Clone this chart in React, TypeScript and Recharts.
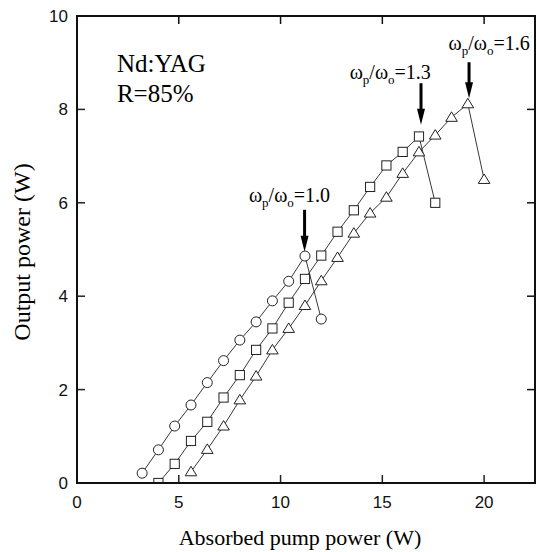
import React from 'react';
import { ComposedChart, Line, XAxis, YAxis, ReferenceLine, ReferenceDot } from 'recharts';

// ---- data ----
const circleX = [3.2, 4.0, 4.8, 5.6, 6.4, 7.2, 8.0, 8.8, 9.6, 10.4, 11.2, 12.0];
const circleY = [0.21, 0.71, 1.22, 1.67, 2.15, 2.62, 3.06, 3.45, 3.9, 4.32, 4.86, 3.51];

const squareX = [4.0, 4.8, 5.6, 6.4, 7.2, 8.0, 8.8, 9.6, 10.4, 11.2, 12.0, 12.8, 13.6, 14.4, 15.2, 16.0, 16.8, 17.6];
const squareY = [0.0, 0.41, 0.9, 1.31, 1.83, 2.31, 2.85, 3.31, 3.86, 4.37, 4.87, 5.38, 5.84, 6.34, 6.8, 7.09, 7.42, 6.0];

const triangleX = [5.6, 6.4, 7.2, 8.0, 8.8, 9.6, 10.4, 11.2, 12.0, 12.8, 13.6, 14.4, 15.2, 16.0, 16.8, 17.6, 18.4, 19.2, 20.0];
const triangleY = [0.24, 0.72, 1.22, 1.78, 2.29, 2.85, 3.31, 3.8, 4.33, 4.83, 5.35, 5.78, 6.12, 6.63, 7.09, 7.45, 7.83, 8.12, 6.5];

const X_MAX = 22.5;
const Y_MAX = 10;
const xTicks = [0, 5, 10, 15, 20];
const yTicks = [0, 2, 4, 6, 8, 10];
const topTicks = [5, 10, 15, 20];
const rightTicks = [2, 4, 6, 8];

const annoValues = ['1.0', '1.3', '1.6'];
const annoTextX = [10.44, 15.39, 20.25];
const annoTextY = [6.02, 8.66, 9.27];
const arrowX = [11.18, 16.9, 19.26];
const arrowTop = [5.85, 8.56, 9.01];
const arrowTip = [4.95, 7.67, 8.24];

const sampleLines = ['Nd:YAG', 'R=85%'];
const sampleX = [1.96, 1.96];
const sampleY = [8.8, 8.16];

const xLabel = 'Absorbed pump power (W)';
const yLabel = 'Output power (W)';

const circleData = circleX.map((x, i) => ({ x, y: circleY[i] }));
const squareData = squareX.map((x, i) => ({ x, y: squareY[i] }));
const triangleData = triangleX.map((x, i) => ({ x, y: triangleY[i] }));

// layout (chart box geometry)
const W = 537;
const H = 552;
const M_TOP = 16;
const M_RIGHT = 2;
const Y_AXIS_W = 77;
const X_AXIS_H = 69;
const PLOT_L = Y_AXIS_W;
const PLOT_R = W - M_RIGHT;
const PLOT_T = M_TOP;
const PLOT_B = H - X_AXIS_H;
const frameX = (v: number) => PLOT_L + (v / X_MAX) * (PLOT_R - PLOT_L);
const frameY = (v: number) => PLOT_B - (v / Y_MAX) * (PLOT_B - PLOT_T);

const INK = '#222';
const SERIF = 'Liberation Serif';
const SANS = 'Liberation Sans';

const CircleDot = (p: any) => (
  <circle key={`c${p.index}`} cx={p.cx} cy={p.cy} r={5} fill="#fff" stroke={INK} strokeWidth={1} />
);
const SquareDot = (p: any) => (
  <rect key={`s${p.index}`} x={p.cx - 4.6} y={p.cy - 4.6} width={9.2} height={9.2} fill="#fff" stroke={INK} strokeWidth={1} />
);
const TriangleDot = (p: any) => (
  <polygon
    key={`t${p.index}`}
    points={`${p.cx},${p.cy - 5.5} ${p.cx + 5.8},${p.cy + 4} ${p.cx - 5.8},${p.cy + 4}`}
    fill="#fff"
    stroke={INK}
    strokeWidth={1}
  />
);

const BottomTick = (p: any) => (
  <g>
    <line x1={p.x} y1={p.y} x2={p.x} y2={p.y - 8} stroke={INK} strokeWidth={1.5} />
    <text x={p.x} y={p.y + 25} textAnchor="middle" style={{ fontFamily: SANS }} fontSize={17} fill="#111">
      {p.payload.value}
    </text>
  </g>
);
const LeftTick = (p: any) => (
  <g>
    <line x1={p.x} y1={p.y} x2={p.x + 8} y2={p.y} stroke={INK} strokeWidth={1.5} />
    <text x={p.x - 9} y={p.y + 6} textAnchor="end" style={{ fontFamily: SANS }} fontSize={17} fill="#111">
      {p.payload.value}
    </text>
  </g>
);

const Arrow = (p: any) => {
  const { x1, y1, x2, y2 } = p;
  const head = 16;
  return (
    <g>
      <line x1={x1} y1={y1} x2={x2} y2={y2 - head + 2} stroke="#000" strokeWidth={3} />
      <polygon points={`${x2},${y2} ${x2 - 4},${y2 - head} ${x2 + 4},${y2 - head}`} fill="#000" />
    </g>
  );
};

const makeAnnoText = (v: string) => (p: any) => (
  <text x={p.cx} y={p.cy} textAnchor="middle" style={{ fontFamily: SERIF }} fontSize={20} fill="#000">
    ω<tspan fontSize={13} dy={5}>p</tspan>
    <tspan dy={-5}>/ω</tspan>
    <tspan fontSize={13} dy={5}>o</tspan>
    <tspan dy={-5}>={v}</tspan>
  </text>
);

const makeSampleText = (s: string) => (p: any) => (
  <text x={p.cx} y={p.cy} textAnchor="start" style={{ fontFamily: SERIF }} fontSize={25} fill="#000">
    {s}
  </text>
);

export default function App() {
  return (
    <div style={{ position: 'absolute', left: 0, top: 0, width: W, height: H, background: '#fff' }}>
      <ComposedChart width={W} height={H} margin={{ top: M_TOP, right: M_RIGHT, bottom: 0, left: 0 }}>
        <XAxis
          xAxisId="b"
          dataKey="x"
          type="number"
          domain={[0, X_MAX]}
          ticks={xTicks}
          height={X_AXIS_H}
          axisLine={{ stroke: INK, strokeWidth: 1.5 }}
          tickLine={false}
          tickSize={0}
          tickMargin={0}
          tick={<BottomTick />}
          allowDataOverflow
        />
        <YAxis
          yAxisId="l"
          type="number"
          domain={[0, Y_MAX]}
          ticks={yTicks}
          width={Y_AXIS_W}
          axisLine={{ stroke: INK, strokeWidth: 1.5 }}
          tickLine={false}
          tickSize={0}
          tickMargin={0}
          tick={<LeftTick />}
          allowDataOverflow
        />

        <Line xAxisId="b" yAxisId="l" data={circleData} dataKey="y" type="linear" stroke={INK} strokeWidth={0.9} dot={CircleDot} activeDot={false} isAnimationActive={false} />
        <Line xAxisId="b" yAxisId="l" data={squareData} dataKey="y" type="linear" stroke={INK} strokeWidth={0.9} dot={SquareDot} activeDot={false} isAnimationActive={false} />
        <Line xAxisId="b" yAxisId="l" data={triangleData} dataKey="y" type="linear" stroke={INK} strokeWidth={0.9} dot={TriangleDot} activeDot={false} isAnimationActive={false} />

        {annoValues.map((v, i) => (
          <ReferenceLine
            key={`a${i}`}
            xAxisId="b"
            yAxisId="l"
            segment={[{ x: arrowX[i], y: arrowTop[i] }, { x: arrowX[i], y: arrowTip[i] }]}
            shape={Arrow}
          />
        ))}
        {annoValues.map((v, i) => (
          <ReferenceDot key={`t${i}`} xAxisId="b" yAxisId="l" x={annoTextX[i]} y={annoTextY[i]} r={1} shape={makeAnnoText(v)} />
        ))}
        {sampleLines.map((s, i) => (
          <ReferenceDot key={`s${i}`} xAxisId="b" yAxisId="l" x={sampleX[i]} y={sampleY[i]} r={1} shape={makeSampleText(s)} />
        ))}
      </ComposedChart>
      <svg width={W} height={H} style={{ position: 'absolute', left: 0, top: 0, pointerEvents: 'none' }}>
        {/* top and right spines of the frame, with inward ticks */}
        <rect x={PLOT_L} y={PLOT_T} width={PLOT_R - PLOT_L} height={PLOT_B - PLOT_T} fill="none" stroke="#111" strokeWidth={2} />
        {topTicks.map((t) => (
          <line key={`tt${t}`} x1={frameX(t)} y1={PLOT_T} x2={frameX(t)} y2={PLOT_T + 8} stroke="#111" strokeWidth={1.5} />
        ))}
        {rightTicks.map((t) => (
          <line key={`rt${t}`} x1={PLOT_R} y1={frameY(t)} x2={PLOT_R - 8} y2={frameY(t)} stroke="#111" strokeWidth={1.5} />
        ))}
        <text x={300} y={545} textAnchor="middle" style={{ fontFamily: SERIF }} fontSize={22} fill="#000">
          {xLabel}
        </text>
        <text x={30} y={252} textAnchor="middle" style={{ fontFamily: SERIF }} fontSize={24} fill="#000" transform="rotate(-90 30 252)">
          {yLabel}
        </text>
      </svg>
    </div>
  );
}
